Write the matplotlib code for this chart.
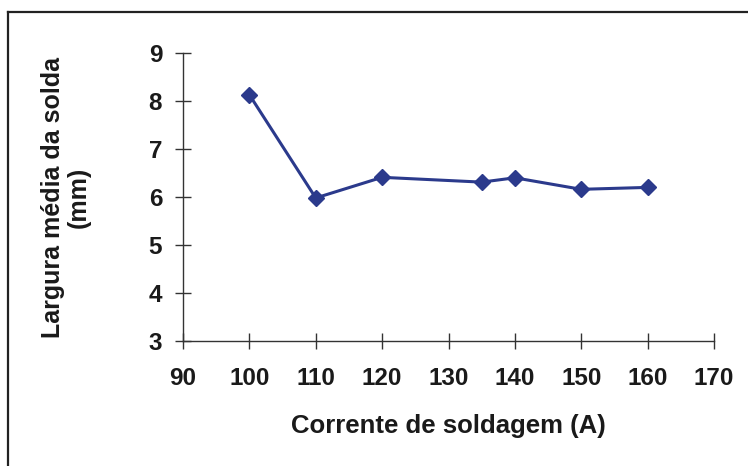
import matplotlib
matplotlib.use("Agg")
import matplotlib.pyplot as plt
from matplotlib.lines import Line2D

corrente = [100, 110, 120, 135, 140, 150, 160]
largura = [8.13, 5.98, 6.41, 6.31, 6.40, 6.16, 6.20]
x_ticks = [90, 100, 110, 120, 130, 140, 150, 160, 170]
y_ticks = [3, 4, 5, 6, 7, 8, 9]

plt.rcParams['font.family'] = ['Liberation Sans', 'DejaVu Sans']

fig = plt.figure(figsize=(7.48, 4.66), dpi=100)
ax = fig.add_axes([183/748, 1 - 341/466, (714 - 183)/748, (341 - 53)/466])

ax.plot(corrente, largura, color='#2B3A8C', lw=2.2, marker='D', ms=8,
        mfc='#2B3A8C', mec='#2B3A8C')

ax.set_xlim(90, 170)
ax.set_ylim(3, 9)
ax.set_xticks(x_ticks)
ax.set_yticks(y_ticks)
for s in ['top', 'right']:
    ax.spines[s].set_visible(False)
for s in ['left', 'bottom']:
    ax.spines[s].set_color('#333333')
    ax.spines[s].set_linewidth(1.0)
ax.tick_params(direction='inout', length=12, width=1.0, color='#333333',
               labelsize=17.5, labelcolor='#1a1a1a')
ax.tick_params(axis='x', pad=13)
ax.tick_params(axis='y', pad=9)
for lab in ax.get_xticklabels() + ax.get_yticklabels():
    lab.set_fontweight('bold')

ax.set_xlabel('Corrente de soldagem (A)', fontsize=18.5, fontweight='bold',
              color='#1a1a1a', labelpad=17)
ax.set_ylabel('Largura média da solda\n(mm)', fontsize=18, fontweight='bold',
              color='#1a1a1a', labelpad=42, linespacing=1.05)

# outer frame (top and left edges visible)
fig.add_artist(Line2D([8/748, 1.0], [1 - 12/466, 1 - 12/466],
                      transform=fig.transFigure, color='#222222', lw=1.6))
fig.add_artist(Line2D([8/748, 8/748], [0, 1 - 12/466],
                      transform=fig.transFigure, color='#222222', lw=1.6))

fig.savefig('out.png', dpi=100)
